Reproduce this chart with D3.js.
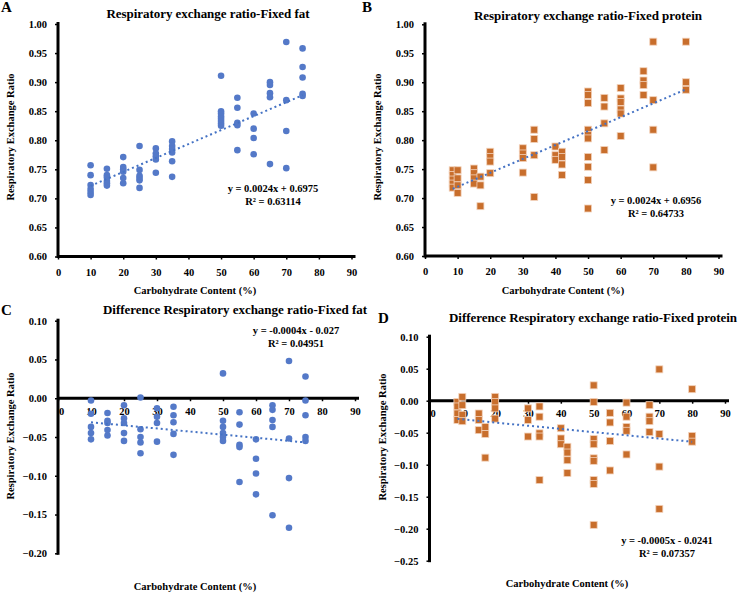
<!DOCTYPE html>
<html><head><meta charset="utf-8">
<script src="https://cdn.jsdelivr.net/npm/d3@7"></script>
<style>
body{margin:0;background:#fff}
svg{display:block}
text{font-family:"Liberation Serif","Times New Roman",serif;font-weight:bold;fill:#000}
</style>
</head><body><svg id="c" width="738" height="593"></svg>
<script>
const xTicks = [0,10,20,30,40,50,60,70,80,90];
const xLabel = "Carbohydrate Content (%)";
const yLabel = "Respiratory Exchange Ratio";

// Panel A – fixed fat (circles)
const fatX = [10,15,20,25,30,35,50,55,60,65,70,75];
const fatRER = [
  [0.757,0.740,0.723,0.716,0.711,0.706],
  [0.751,0.740,0.736,0.730,0.726,0.722],
  [0.771,0.754,0.750,0.746,0.735,0.726],
  [0.790,0.749,0.739,0.735,0.731,0.718],
  [0.786,0.777,0.772,0.767,0.744],
  [0.798,0.790,0.785,0.779,0.764,0.737],
  [0.911,0.850,0.846,0.841,0.837,0.833,0.829,0.825],
  [0.873,0.856,0.830,0.826,0.783],
  [0.846,0.820,0.804,0.776],
  [0.900,0.895,0.881,0.874,0.759],
  [0.969,0.869,0.816,0.752],
  [0.958,0.926,0.908,0.880,0.876]
];
const fatFit = {slope:0.0024, intercept:0.6975, r2:"0.63114", eq:"y = 0.0024x + 0.6975"};

// Panel B – fixed protein (squares)
const protX = [8.5,10,15,17,20,30,33.5,40,42,50,55,60,67,70,80];
const protRER = [
  [0.748,0.740,0.732,0.725,0.718],
  [0.748,0.734,0.722,0.709],
  [0.751,0.743,0.734,0.725],
  [0.737,0.722,0.686],
  [0.780,0.771,0.763,0.743],
  [0.786,0.777,0.769,0.744],
  [0.818,0.802,0.774,0.702],
  [0.789,0.774,0.766],
  [0.780,0.771,0.758,0.740],
  [0.884,0.878,0.864,0.818,0.809,0.803,0.771,0.754,0.731,0.682],
  [0.873,0.858,0.829,0.783],
  [0.890,0.872,0.866,0.853,0.846,0.807],
  [0.919,0.903,0.895,0.878],
  [0.970,0.869,0.818,0.753],
  [0.970,0.900,0.887]
];
const protFit = {slope:0.0024, intercept:0.6956, r2:"0.64733", eq:"y = 0.0024x + 0.6956"};

// Panel C – difference, fixed fat
const fatDiff = [
  [-0.003,-0.020,-0.037,-0.045,-0.053],
  [-0.019,-0.029,-0.032,-0.041,-0.048],
  [-0.009,-0.026,-0.032,-0.045,-0.055],
  [0.001,-0.040,-0.050,-0.057,-0.071],
  [-0.013,-0.024,-0.032,-0.056],
  [-0.011,-0.022,-0.031,-0.046,-0.073],
  [0.032,-0.029,-0.037,-0.045,-0.050,-0.055],
  [-0.018,-0.034,-0.060,-0.063,-0.108],
  [-0.053,-0.078,-0.097,-0.124],
  [-0.009,-0.015,-0.028,-0.037,-0.151],
  [0.048,-0.052,-0.103,-0.167],
  [0.028,-0.003,-0.022,-0.050,-0.055]
];
const fatDiffFit = {slope:-0.0004, intercept:-0.027, r2:"0.04951", eq:"y = -0.0004x - 0.027"};

// Panel D – difference, fixed protein
const protDiff = [
  [-0.002,-0.009,-0.020,-0.030],
  [0.006,-0.007,-0.022,-0.032],
  [-0.020,-0.030,-0.046],
  [-0.041,-0.052,-0.089],
  [0.006,-0.002,-0.012,-0.028],
  [-0.012,-0.030,-0.056],
  [-0.009,-0.025,-0.051,-0.056,-0.124],
  [-0.043,-0.059,-0.068],
  [-0.072,-0.081,-0.093,-0.113],
  [0.024,-0.002,-0.060,-0.068,-0.090,-0.094,-0.124,-0.130,-0.194],
  [-0.019,-0.034,-0.063,-0.109],
  [-0.003,-0.025,-0.041,-0.047,-0.084],
  [-0.007,-0.025,-0.032,-0.049],
  [0.049,-0.052,-0.103,-0.169],
  [0.018,-0.055,-0.064]
];
const protDiffFit = {slope:-0.0005, intercept:-0.0241, r2:"0.07357", eq:"y = -0.0005x - 0.0241"};

const yTicksA = d3.range(0.60, 1.0001, 0.05);
const yTicksC = d3.range(-0.20, 0.1001, 0.05);
const yTicksD = d3.range(-0.25, 0.1001, 0.05);

const BLUE = "#5479C8", ORANGE = "#C86E2C", LINE = "#4472C4";
const svg = d3.select("#c");
svg.append("rect").attr("width",738).attr("height",593).attr("fill","#fff");

const panels = [
  {letter:"A", lx:1, ly:12, title:"Respiratory exchange ratio-Fixed  fat", tx:208, ty:18, tw:203,
   xr:[58,351.5], yr:[256.5,24], yd:[0.60,1.00], yt:yTicksA, xs:fatX, ys:fatRER, fit:fatFit, shape:"c",
   ex:273, ey:192, xtY:271, xlx:195, xly:294, ylx:10, yly:137},
  {letter:"B", lx:362, ly:12, title:"Respiratory exchange ratio-Fixed  protein", tx:588, ty:20, tw:228,
   xr:[425,718.5], yr:[256,24.3], yd:[0.60,1.00], yt:yTicksA, xs:protX, ys:protRER, fit:protFit, shape:"s",
   ex:656, ey:204, xtY:271, xlx:563, xly:294, ylx:377, yly:137},
  {letter:"C", lx:1, ly:315, title:"Difference Respiratory exchange ratio-Fixed fat", tx:235, ty:314, tw:264,
   xr:[58,355], yr:[553.3,320.7], yd:[-0.20,0.10], yt:yTicksC, xs:fatX, ys:fatDiff, fit:fatDiffFit, shape:"c",
   ex:296, ey:334, xtY:null, xlx:195, xly:590, ylx:10, yly:436},
  {letter:"D", lx:378, ly:323, title:"Difference Respiratory exchange ratio-Fixed protein", tx:593, ty:322, tw:288,
   xr:[429.5,725], yr:[560.7,336.7], yd:[-0.25,0.10], yt:yTicksD, xs:protX, ys:protDiff, fit:protDiffFit, shape:"s",
   ex:667, ey:544, xtY:null, xlx:567, xly:587, ylx:382, yly:437}
];

panels.forEach(p => {
  const g = svg.append("g");
  const x = d3.scaleLinear().domain([0,90]).range(p.xr);
  const y = d3.scaleLinear().domain(p.yd).range(p.yr);
  const x0 = x(0);
  const axisY = p.yd[0] >= 0 ? y(p.yd[0]) : y(0);

  // y axis
  const ya = d3.axisLeft(y).tickValues(p.yt).tickFormat(d3.format(".2f")).tickSize(3).tickSizeOuter(0).tickPadding(8);
  const yg = g.append("g").attr("transform",`translate(${x0},0)`).call(ya).attr("font-family",null);
  yg.select(".domain").remove();
  yg.selectAll(".tick line").attr("stroke","#000").attr("stroke-width",1.5);
  yg.selectAll(".tick text").style("font-size","10.5px");

  // x axis
  const xa = d3.axisBottom(x).tickValues(xTicks).tickFormat(d3.format("d")).tickSize(3).tickSizeOuter(0).tickPadding(p.xtY ? 9 : 6);
  const xg = g.append("g").attr("transform",`translate(0,${axisY})`).call(xa).attr("font-family",null);
  xg.select(".domain").remove();
  xg.selectAll(".tick line").attr("stroke","#000").attr("stroke-width",1.5);
  xg.selectAll(".tick text").style("font-size","10.5px");
  if (p.xtY === null) xg.selectAll(".tick").filter(d=>d===0).select("text").attr("dx",3);

  // axis lines
  g.append("line").attr("x1",x0).attr("x2",x0).attr("y1",y(p.yd[1])-2).attr("y2",y(p.yd[0])+1.5)
    .attr("stroke","#000").attr("stroke-width",3);
  g.append("line").attr("x1",x0).attr("x2",x(90)+4).attr("y1",axisY).attr("y2",axisY)
    .attr("stroke","#000").attr("stroke-width",3);

  // points
  const pts = [];
  p.xs.forEach((xv,i) => p.ys[i].forEach(v => pts.push([xv,v])));
  if (p.shape === "c") {
    g.selectAll("circle.pt").data(pts).join("circle").attr("class","pt")
      .attr("cx",d=>x(d[0])).attr("cy",d=>y(d[1])).attr("r",3.3).attr("fill",BLUE);
  } else {
    g.selectAll("rect.pt").data(pts).join("rect").attr("class","pt")
      .attr("x",d=>x(d[0])-3.5).attr("y",d=>y(d[1])-3.5).attr("width",7).attr("height",7)
      .attr("fill",ORANGE).attr("stroke","#F3D3BC").attr("stroke-width",0.8);
  }

  // trend line
  const xmin = d3.min(p.xs), xmax = d3.max(p.xs);
  const f = v => p.fit.slope*v + p.fit.intercept;
  g.append("line").attr("x1",x(xmin)).attr("y1",y(f(xmin))).attr("x2",x(xmax)).attr("y2",y(f(xmax)))
    .attr("stroke",LINE).attr("stroke-width",2).attr("stroke-dasharray","2,3");

  // texts
  g.append("text").attr("x",p.lx).attr("y",p.ly).style("font-size","15px").text(p.letter);
  g.append("text").attr("x",p.tx).attr("y",p.ty).attr("text-anchor","middle").style("font-size","13px")
    .attr("textLength",p.tw).attr("lengthAdjust","spacing").text(p.title);
  g.append("text").attr("x",p.ex).attr("y",p.ey).attr("text-anchor","middle").style("font-size","10.5px").text(p.fit.eq);
  g.append("text").attr("x",p.ex).attr("y",p.ey+13).attr("text-anchor","middle").style("font-size","10.5px").text("R² = " + p.fit.r2);
  g.append("text").attr("x",p.xlx).attr("y",p.xly).attr("text-anchor","middle").style("font-size","10.5px").text(xLabel);
  g.append("text").attr("transform",`translate(${p.ylx},${p.yly}) rotate(-90)`).attr("text-anchor","middle")
    .attr("dominant-baseline","central").style("font-size","10.5px").text(yLabel);
});
</script>
</body></html>
